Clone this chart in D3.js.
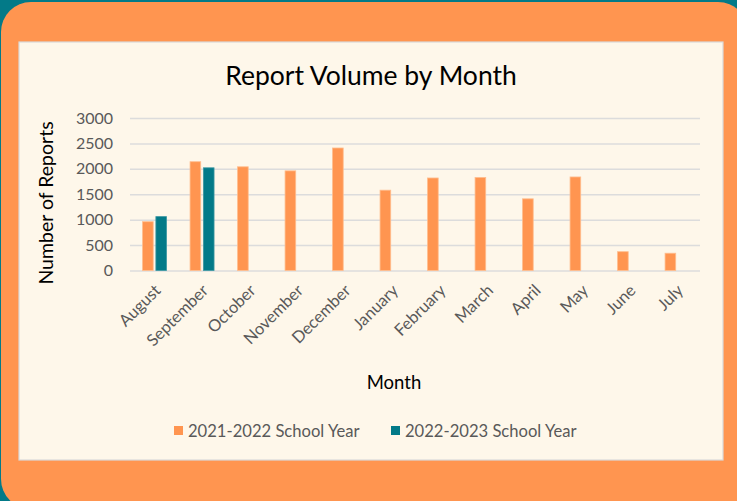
<!DOCTYPE html>
<html>
<head>
<meta charset="utf-8">
<script src="https://cdn.jsdelivr.net/npm/d3@7"></script>
<style>
  html, body { margin: 0; padding: 0; background: #037a88; }
  svg { display: block; font-family: Lato, "Open Sans", sans-serif; }
</style>
</head>
<body>
<div id="chart"></div>
<script>
// values
var months = ["August", "September", "October", "November", "December", "January",
              "February", "March", "April", "May", "June", "July"];
var seriesNames = ["2021-2022 School Year", "2022-2023 School Year"];
var year2122 = [960, 2140, 2040, 1960, 2410, 1580, 1820, 1830, 1410, 1840, 370, 340];
var year2223 = [1060, 2020, null, null, null, null, null, null, null, null, null, null];
var yTicks = [0, 500, 1000, 1500, 2000, 2500, 3000];

var W = 737, H = 501;
var orange = "#ff9550", teal = "#037a88", cream = "#fef7ea";

var svg = d3.select("#chart").append("svg")
  .attr("width", W)
  .attr("height", H);

// background frame
svg.append("rect").attr("width", W).attr("height", H).attr("fill", teal);
svg.append("rect")
  .attr("x", 1).attr("y", 2)
  .attr("width", W + 10).attr("height", H + 6)
  .attr("rx", 30)
  .attr("fill", orange);
// cream chart panel
svg.append("rect")
  .attr("x", 19).attr("y", 42)
  .attr("width", 704).attr("height", 418)
  .attr("fill", cream)
  .attr("stroke", "#d9d9d9")
  .attr("stroke-width", 1.2);

var margin = { top: 118, left: 130 };
var plotW = 570, plotH = 152.5;

var g = svg.append("g")
  .attr("transform", "translate(" + margin.left + "," + margin.top + ")");

var x = d3.scaleBand()
  .domain(months)
  .range([0, plotW])
  .paddingInner(0.495)
  .paddingOuter(0.2475);

var xs = d3.scaleBand()
  .domain(seriesNames)
  .range([0, x.bandwidth()])
  .paddingInner(0.2);

var y = d3.scaleLinear()
  .domain([0, 3000])
  .range([plotH, 0]);

// gridlines + y ticks
var yAxis = g.append("g")
  .call(d3.axisLeft(y).tickValues(yTicks).tickFormat(d3.format("d"))
    .tickSize(-plotW).tickPadding(17));
yAxis.select(".domain").remove();
yAxis.selectAll(".tick line")
  .attr("stroke", "#dcdcdc")
  .attr("stroke-width", 1.5);
yAxis.selectAll(".tick text")
  .attr("fill", "#595959")
  .style("font-size", "16px")
  .style("font-family", "Lato, sans-serif");

// bars
var rows = months.map(function(m, i) {
  return { month: m, values: [year2122[i], year2223[i]] };
});
var colors = d3.scaleOrdinal().domain(seriesNames).range([orange, teal]);
var strokes = d3.scaleOrdinal().domain(seriesNames).range(["#ffbd8e", "#3c98a3"]);

var groups = g.selectAll(".month")
  .data(rows)
  .enter().append("g")
  .attr("class", "month")
  .attr("transform", function(d) { return "translate(" + (x(d.month) + 0.8) + ",0)"; });

groups.selectAll("rect")
  .data(function(d) {
    return seriesNames.map(function(s, j) { return { series: s, value: d.values[j] }; })
      .filter(function(v) { return v.value != null; });
  })
  .enter().append("rect")
  .attr("x", function(d) { return xs(d.series); })
  .attr("y", function(d) { return y(d.value); })
  .attr("width", xs.bandwidth())
  .attr("height", function(d) { return plotH - y(d.value); })
  .attr("fill", function(d) { return colors(d.series); })
  .attr("stroke", function(d) { return strokes(d.series); })
  .attr("stroke-width", 0.8);

// month labels, rotated
var xAxis = g.append("g")
  .attr("transform", "translate(0," + plotH + ")")
  .call(d3.axisBottom(x).tickSize(0).tickPadding(0));
xAxis.select(".domain").remove();
xAxis.selectAll(".tick text")
  .attr("fill", "#595959")
  .style("font-size", "16.5px")
  .style("font-family", "Lato, sans-serif")
  .attr("text-anchor", "end")
  .attr("dy", null)
  .attr("y", 0)
  .attr("transform", "translate(8,21) rotate(-45)");

// titles
svg.append("text")
  .attr("x", 371).attr("y", 85)
  .attr("text-anchor", "middle")
  .style("font-size", "26.5px")
  .attr("fill", "#000")
  .text("Report Volume by Month");

svg.append("text")
  .attr("transform", "translate(53,203) rotate(-90)")
  .attr("text-anchor", "middle")
  .style("font-size", "19.5px")
  .attr("fill", "#000")
  .text("Number of Reports");

svg.append("text")
  .attr("x", 394).attr("y", 389)
  .attr("text-anchor", "middle")
  .style("font-size", "18.5px")
  .attr("fill", "#000")
  .text("Month");

// legend
var legendX = [174, 391];
var legend = svg.selectAll(".legend")
  .data(seriesNames)
  .enter().append("g")
  .attr("class", "legend")
  .attr("transform", function(d, i) { return "translate(" + legendX[i] + ",426)"; });
legend.append("rect")
  .attr("width", 9).attr("height", 9)
  .attr("fill", function(d) { return colors(d); });
legend.append("text")
  .attr("x", 14).attr("y", 10.5)
  .style("font-size", "16.6px")
  .attr("fill", "#595959")
  .text(function(d) { return d; });
</script>
</body>
</html>
